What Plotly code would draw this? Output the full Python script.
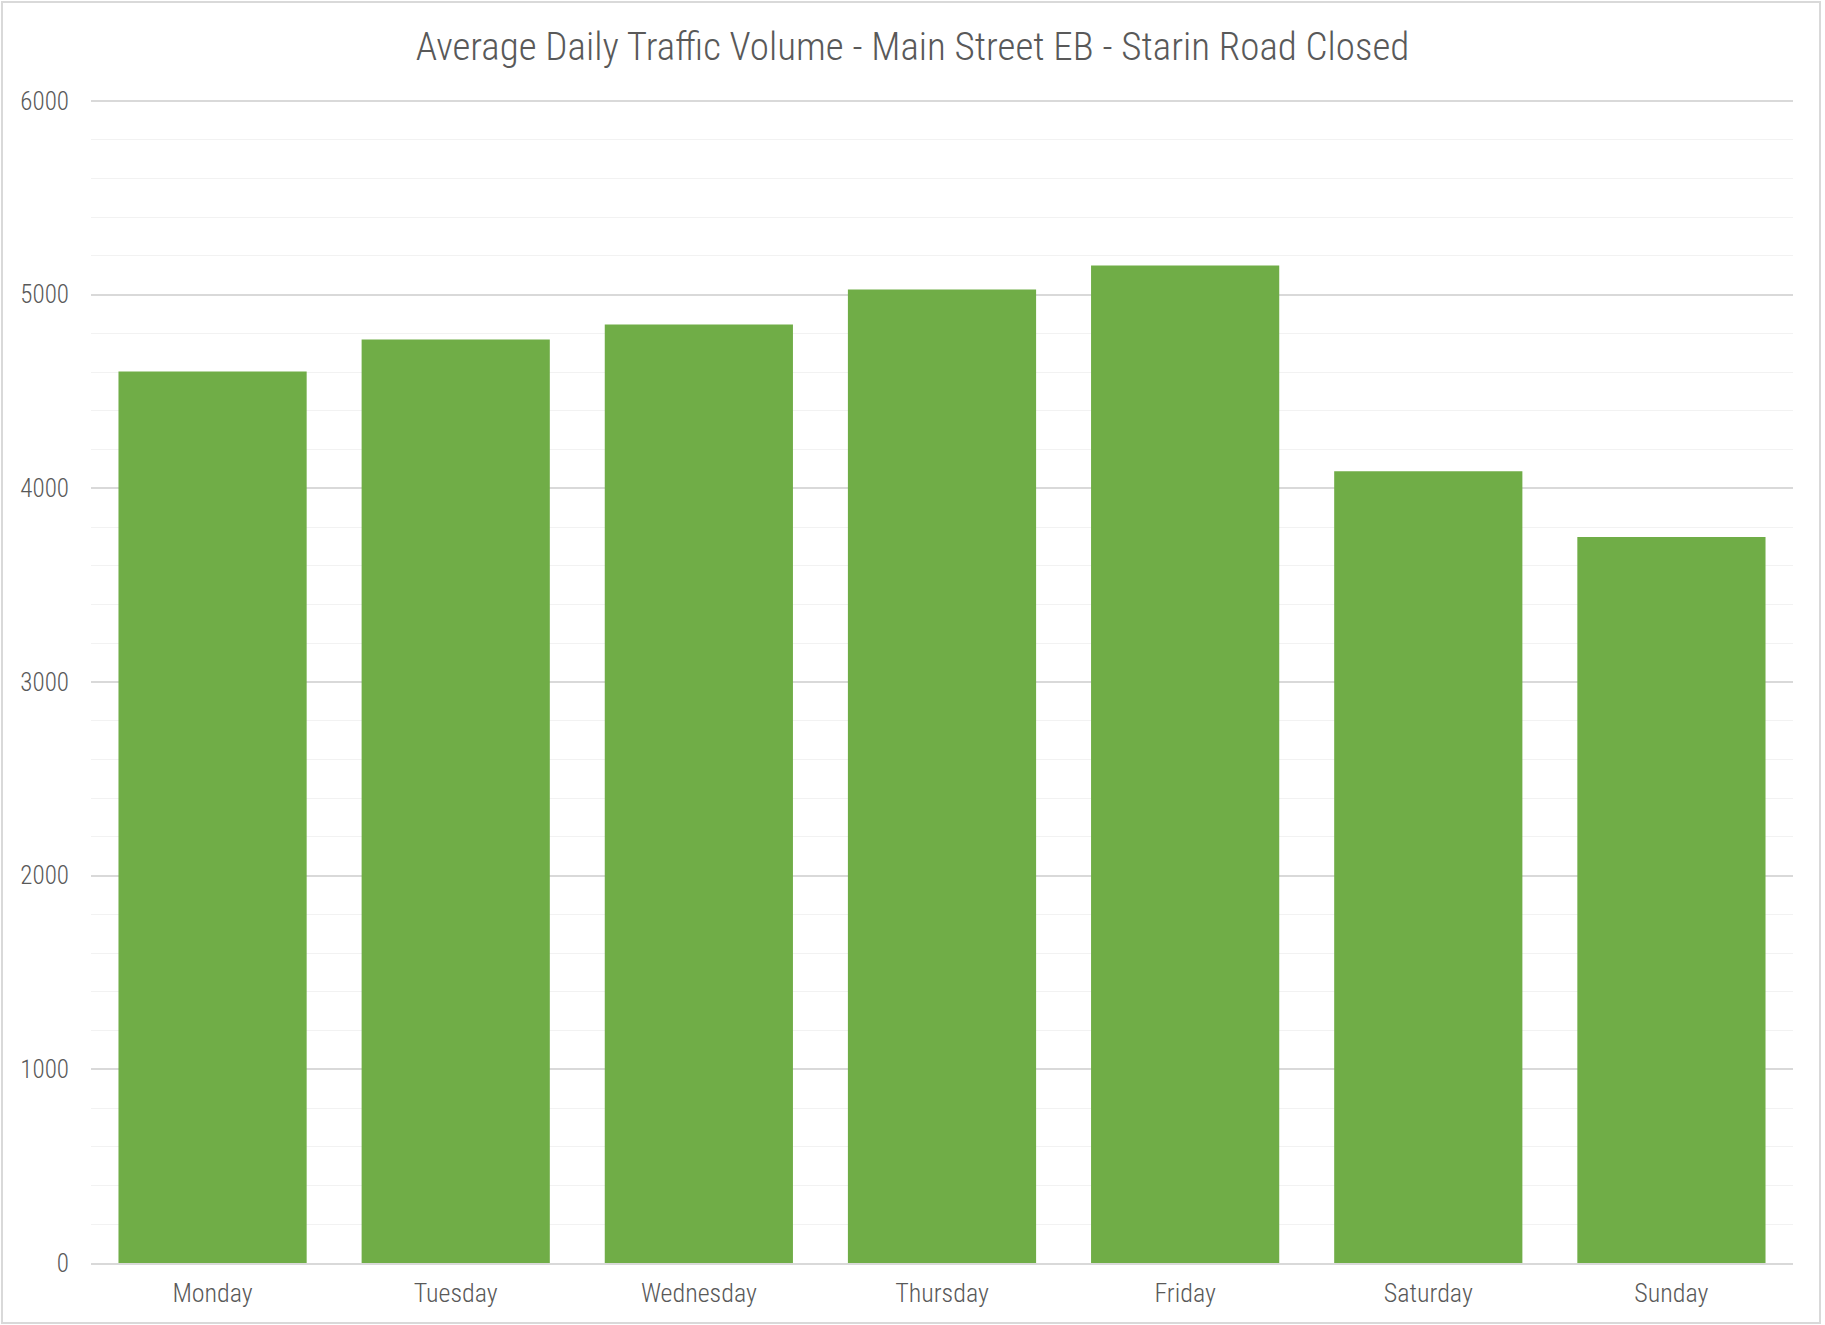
import plotly.graph_objects as go

days = ["Monday", "Tuesday", "Wednesday", "Thursday", "Friday", "Saturday", "Sunday"]
volumes = [4603, 4768, 4845, 5026, 5150, 4088, 3749]
y_ticks = [0, 1000, 2000, 3000, 4000, 5000, 6000]

W, H = 1825, 1325
ML, MR, MT, MB = 91, 32, 98, 62
FONT = "Roboto Condensed, Liberation Sans Narrow, Arial Narrow, sans-serif"
TXT = "#595959"

fig = go.Figure(go.Bar(x=days, y=volumes, marker=dict(color="#70AD47", line=dict(width=0))))

pw = W - ML - MR
ph = H - MT - MB
fig.add_shape(type="rect", xref="paper", yref="paper",
              x0=-(ML - 2) / pw, x1=1 + (MR - 5) / pw,
              y0=-(MB - 2) / ph, y1=1 + (MT - 2) / ph,
              line=dict(color="#D9D9D9", width=2), layer="below")

fig.update_layout(
    width=W, height=H,
    margin=dict(l=ML, r=MR, t=MT, b=MB),
    paper_bgcolor="white", plot_bgcolor="white",
    bargap=0.226,
    showlegend=False,
    font=dict(family=FONT, color=TXT, weight=300),
    title=dict(text="Average Daily Traffic Volume - Main Street EB - Starin Road Closed",
               x=0.5, xref="container", xanchor="center", y=1 - 46 / H, yanchor="middle",
               font=dict(family=FONT, size=39, color=TXT, weight=300)),
    xaxis=dict(showgrid=False, showline=True, linecolor="#D9D9D9", linewidth=2,
               ticks="", ticklabelstandoff=6,
               tickfont=dict(size=26, color=TXT, family=FONT, weight=300)),
    yaxis=dict(range=[0, 6015], tickvals=y_ticks, ticktext=[str(v) for v in y_ticks],
               showgrid=True, gridcolor="#D9D9D9", gridwidth=1.5,
               zeroline=False, showline=False, ticks="", ticklabelstandoff=21,
               tickfont=dict(size=25, color=TXT, family=FONT, weight=300),
               minor=dict(dtick=200, showgrid=True, gridcolor="#F2F2F2", gridwidth=1.2)),
)

fig.write_html("out.html", config={"displayModeBar": False},
               post_script="document.body.style.margin='0';document.body.style.overflow='hidden';")
